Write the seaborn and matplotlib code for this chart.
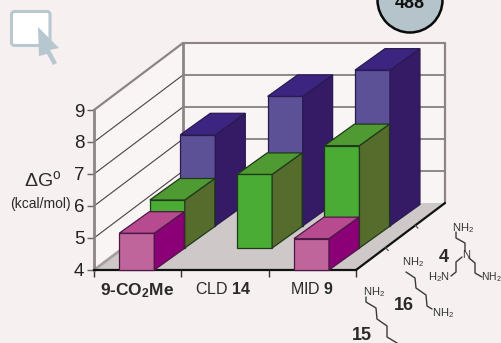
import numpy as np
import matplotlib
matplotlib.use("Agg")
import matplotlib.pyplot as plt
from matplotlib.patches import Polygon, FancyBboxPatch, Circle
import seaborn as sns

categories = ["9-CO$_2$Me", r"CLD $\mathbf{14}$", r"MID $\mathbf{9}$"]
tick_values = [4, 5, 6, 7, 8, 9]
pink_values = [5.15, np.nan, 4.98]      # amine 15 (front row)
green_values = [5.5, 6.3, 7.2]          # amine 16 (middle row)
purple_values = [6.85, 8.05, 8.87]      # amine 4 (back row)

BG = "#f6f0f0"
W, H = 501, 343
sns.set_theme(style="white", rc={"axes.facecolor": "none", "figure.facecolor": BG})
plt.rcParams["font.family"] = ["Liberation Sans", "DejaVu Sans"]
plt.rcParams["mathtext.fontset"] = "custom"
plt.rcParams["mathtext.default"] = "regular"
plt.rcParams["mathtext.rm"] = "Liberation Sans"
plt.rcParams["mathtext.bf"] = "Liberation Sans:bold"

fig = plt.figure(figsize=(W / 100, H / 100), dpi=100)
ax = fig.add_axes([94 / W, (H - 270) / H, 262 / W, 160 / H])

# oblique projection, in axis units
ROW_DX, ROW_DY = 30.5 / 87.33, 22 / 32
BAR_DX, BAR_DY = 30 / 87.33, 21.5 / 32
WALL_DX, WALL_DY = 89 / 87.33, 67 / 32
BAR_W = 35 / 87.33
x0 = np.array([0.49, 1.49, 2.49])

# walls and floor
GREY = "#8d8585"
ax.add_patch(Polygon([(0, 4), (WALL_DX, 4 + WALL_DY), (WALL_DX, 9 + WALL_DY), (0, 9)],
                     fc="#f9f5f5", ec="none", clip_on=False, zorder=0))
ax.add_patch(Polygon([(WALL_DX, 4 + WALL_DY), (3 + WALL_DX, 4 + WALL_DY),
                      (3 + WALL_DX, 9 + WALL_DY), (WALL_DX, 9 + WALL_DY)],
                     fc="#f9f5f5", ec="none", clip_on=False, zorder=0))
ax.add_patch(Polygon([(0, 4), (3, 4), (3 + WALL_DX, 4 + WALL_DY), (WALL_DX, 4 + WALL_DY)],
                     fc="#cfc8c8", ec="none", clip_on=False, zorder=0.5))
for v in tick_values[1:]:
    top = v == 9
    ax.plot([0, WALL_DX], [v, v + WALL_DY], color=GREY if top else "#4a4444",
            lw=1.6 if top else 0.8, clip_on=False, zorder=1)
    ax.plot([WALL_DX, 3 + WALL_DX], [v + WALL_DY] * 2, color=GREY if top else "#7d7575",
            lw=1.5 if top else 1.2, clip_on=False, zorder=1)
ax.plot([WALL_DX, WALL_DX], [4 + WALL_DY, 9 + WALL_DY], color=GREY, lw=2, clip_on=False, zorder=1)
ax.plot([3 + WALL_DX] * 2, [4 + WALL_DY, 9 + WALL_DY], color=GREY, lw=1.6, clip_on=False, zorder=1)
ax.plot([0, WALL_DX], [4, 4 + WALL_DY], color="#a8a0a0", lw=2, clip_on=False, zorder=1)
ax.plot([3, 3 + WALL_DX], [4, 4 + WALL_DY], color="#111111", lw=1.6, clip_on=False, zorder=2.6)
for k in (1, 2):
    tx, ty = 3 + WALL_DX * k / 3, 4 + WALL_DY * k / 3
    ax.plot([tx, tx + 0.03], [ty, ty - 0.09], color="#555555", lw=0.9, clip_on=False, zorder=2.6)


def draw_row(values, row, front, top, side, edge):
    xs = x0 + row * ROW_DX
    base = 4 + row * ROW_DY
    vals = np.array(values, dtype=float)
    sns.barplot(x=xs, y=vals - 4, native_scale=True, width=BAR_W, bottom=base, ax=ax,
                color=front, saturation=1, errorbar=None, edgecolor=edge, linewidth=0.9,
                clip_on=False, zorder=3, legend=False)
    for x, v in zip(xs, vals):
        if np.isnan(v):
            continue
        l, r = x - BAR_W / 2, x + BAR_W / 2
        t = v + row * ROW_DY
        ax.add_patch(Polygon([(r, base), (r + BAR_DX, base + BAR_DY), (r + BAR_DX, t + BAR_DY), (r, t)],
                             fc=side, ec=edge, lw=0.9, clip_on=False, zorder=3))
        ax.add_patch(Polygon([(l, t), (r, t), (r + BAR_DX, t + BAR_DY), (l + BAR_DX, t + BAR_DY)],
                             fc=top, ec=edge, lw=0.9, clip_on=False, zorder=3))


draw_row(purple_values, 2, "#5c5096", "#3c2580", "#351a66", "#2a1a50")
draw_row(green_values, 1, "#4aac34", "#4f9a33", "#566c2c", "#1f3a1a")
draw_row(pink_values, 0, "#c0649c", "#b84a90", "#8b0077", "#4a1a45")

INK = "#2a2a2a"
ax.set_xlim(0, 3)
ax.set_ylim(4, 9)
ax.set_xlabel("")
ax.set_ylabel("")
ax.set_yticks(tick_values)
ax.set_yticklabels([str(v) for v in tick_values], fontsize=13.5, color="#222222")
ax.set_xticks([0, 1, 2, 3])
ax.set_xticklabels([])
ax.set_xticks([0.49, 1.477, 2.5], minor=True)
cat_labels = ax.set_xticklabels(categories, minor=True, fontsize=11.5, color=INK)
cat_labels[0].set_fontweight("bold")
cat_labels[0].set_fontsize(12.5)
ax.tick_params(axis="y", length=5, width=1, color="#666666", pad=2, left=True)
ax.tick_params(axis="x", which="major", length=5, width=1, color="#333333", bottom=True)
ax.tick_params(axis="x", which="minor", length=0, pad=8)
for s in ["top", "right"]:
    ax.spines[s].set_visible(False)
ax.spines["left"].set(color=GREY, linewidth=2)
ax.spines["bottom"].set(color="#111111", linewidth=1.6)

# text and decoration in pixel coordinates of the picture
dec = fig.add_axes([0, 0, 1, 1], zorder=5)
dec.set_xlim(0, W)
dec.set_ylim(H, 0)
dec.axis("off")
dec.text(43, 180, r"$\Delta$G$^{o}$", ha="center", va="center", color=INK, fontsize=14)
dec.text(40, 204, "(kcal/mol)", ha="center", va="center", color=INK, fontsize=10)

dec.add_patch(FancyBboxPatch((11.5, 11.5), 38.5, 34, boxstyle="round,pad=0,rounding_size=3",
                             fc="white", ec="#b9c8d0", lw=2.2))
dec.add_patch(Polygon([(38, 27), (59, 48), (50, 50), (57, 63), (53, 65), (47, 54), (39, 56)],
                      fc="#b7c7cf", ec="none"))

dec.add_patch(Circle((410, 0), 32.5, fc="#b5c3ca", ec="#0a0a0a", lw=1.8, clip_on=False))
dec.text(410, 8, "488", ha="center", va="baseline", fontsize=13, fontweight="bold", color="#111111")

chains = [
    [(406, 272), (415, 278), (416, 288), (426, 295), (427, 306), (432, 309)],
    [(366, 297), (366, 302), (376, 308), (377, 319), (387, 326), (387, 337), (397, 343)],
    [(456, 232), (456, 238), (465, 243), (465, 251)],
    [(462, 257), (456, 262), (456, 272), (451, 276)],
    [(469, 258), (475, 263), (475, 273), (482, 277)],
]
for c in chains:
    xs, ys = zip(*c)
    dec.plot(xs, ys, color="#3a3a3a", lw=1)
mol = dict(ha="left", va="center", color="#333333", fontsize=8)
dec.text(402, 262, "NH$_2$", **mol)
dec.text(432, 313, "NH$_2$", **mol)
dec.text(363, 292, "NH$_2$", **mol)
dec.text(452, 228, "NH$_2$", **mol)
dec.text(428, 277, "H$_2$N", **mol)
dec.text(481, 277, "NH$_2$", ha="left", va="center", color="#333333", fontsize=7.5)
dec.text(466, 255, "N", ha="center", va="center", color="#333333", fontsize=8)
bold = dict(ha="center", va="center", color=INK, fontsize=13, fontweight="bold")
dec.text(404, 306, "16", **bold)
dec.text(362, 336, "15", **bold)
dec.text(444, 258, "4", **bold)

fig.savefig("out.png", dpi=100, facecolor=BG)
